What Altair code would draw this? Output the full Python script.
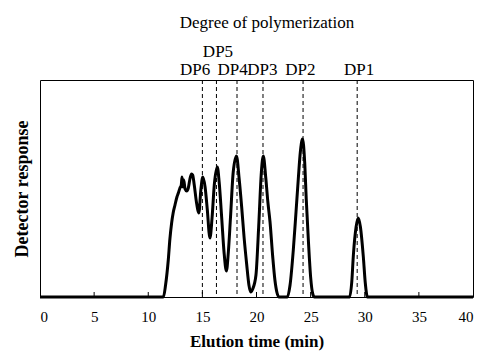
import altair as alt
import pandas as pd

# Chromatogram trace (elution time in min, detector response in arbitrary units)
trace_time = [0, 11.4, 11.6, 11.85, 12.0, 12.16, 12.3, 12.47, 12.65, 12.78, 12.93,
              13.05, 13.12, 13.2, 13.28, 13.4, 13.55, 13.7, 13.85, 14.0, 14.1,
              14.25, 14.45, 14.68, 14.85, 15.04, 15.25, 15.45, 15.7, 15.9, 16.1,
              16.38, 16.55, 16.78, 17.0, 17.22, 17.4, 17.6, 17.85, 18.15, 18.4,
              18.63, 18.85, 19.09, 19.3, 19.46, 19.65, 19.95, 20.2, 20.45, 20.63,
              20.85, 21.05, 21.25, 21.5, 21.7, 21.9, 22.05, 22.85, 23.1, 23.4,
              23.65, 23.86, 24.05, 24.25, 24.45, 24.6, 24.8, 25.0, 25.2, 25.35,
              28.6, 28.8, 28.95, 29.2, 29.4, 29.6, 29.87, 30.05, 30.25, 40]
trace_resp = [0, 0, 12, 37, 58, 74, 84, 92, 100, 104, 109,
              112, 120, 110, 117, 108, 106, 109, 118, 123, 122,
              112, 95, 84, 106, 120, 110, 88, 59, 80, 112,
              130, 115, 80, 45, 26, 45, 80, 125, 141, 118,
              90, 60, 33, 12, 5, 8, 22, 70, 125, 141,
              120, 95, 75, 40, 17, 4, 0, 0, 12, 47,
              85, 118, 145, 158, 135, 97, 55, 20, 3, 0,
              0, 15, 42, 70, 79, 70, 40, 14, 0, 0]

# Degree of polymerization markers
dp_names = ["DP6", "DP5", "DP4", "DP3", "DP2", "DP1"]
dp_times = [15.0, 16.3, 18.2, 20.6, 24.3, 29.3]
dp_label_times = [14.32, 16.44, 17.8, 20.55, 24.05, 29.47]
dp_label_row = [0, 1, 0, 0, 0, 0]

x_ticks = [0, 5, 10, 15, 20, 25, 30, 35, 40]

trace_df = pd.DataFrame({"t": trace_time, "r": trace_resp})
dp_df = pd.DataFrame({"name": dp_names, "t": dp_times,
                      "lt": dp_label_times, "row": dp_label_row})
tick_df = pd.DataFrame({"t": x_ticks[1:-1]})
title_df = pd.DataFrame({"text": ["Degree of polymerization"]})

FONT = "Liberation Serif"
xscale = alt.Scale(domain=[0, 40], nice=False, zero=False)
yscale = alt.Scale(domain=[0, 217], nice=False)

line = alt.Chart(trace_df).mark_line(
    color="black", strokeWidth=3, interpolate="monotone"
).encode(
    x=alt.X("t:Q", scale=xscale,
            axis=alt.Axis(values=x_ticks, title="Elution time (min)", ticks=False,
                          tickSize=0, domain=False, grid=False, labelFont=FONT,
                          labelFontSize=15, labelColor="black", labelPadding=12,
                          titleFont=FONT, titleFontSize=17, titleFontWeight="bold",
                          titleColor="black", titlePadding=9)),
    y=alt.Y("r:Q", scale=yscale,
            axis=alt.Axis(title="Detector response", labels=False, ticks=False,
                          domain=False, grid=False, titleFont=FONT, titleFontSize=18,
                          titleFontWeight="bold", titleColor="black", titlePadding=9)),
)

dashes = alt.Chart(dp_df).mark_rule(
    color="black", strokeWidth=1, strokeDash=[4, 3]
).encode(
    x=alt.X("t:Q", scale=xscale),
    y=alt.value(0),
    y2=alt.value(217),
)

ticks = alt.Chart(tick_df).mark_rule(color="black", strokeWidth=1).encode(
    x=alt.X("t:Q", scale=xscale),
    y=alt.value(217),
    y2=alt.value(212),
)

labels_low = alt.Chart(dp_df).transform_filter(alt.datum.row == 0).mark_text(
    font=FONT, fontSize=17, color="black", baseline="middle", align="center"
).encode(
    x=alt.X("lt:Q", scale=xscale),
    y=alt.value(-10),
    text="name:N",
)

labels_high = alt.Chart(dp_df).transform_filter(alt.datum.row == 1).mark_text(
    font=FONT, fontSize=17, color="black", baseline="middle", align="center"
).encode(
    x=alt.X("lt:Q", scale=xscale),
    y=alt.value(-28),
    text="name:N",
)

title = alt.Chart(title_df).mark_text(
    font=FONT, fontSize=17, color="black", baseline="middle", align="center"
).encode(
    x=alt.value(227),
    y=alt.value(-57),
    text="text:N",
)

chart = alt.layer(dashes, ticks, line, labels_low, labels_high, title).properties(
    width=433,
    height=217,
    padding={"left": 40, "top": 80, "right": 8, "bottom": 55},
    autosize=alt.AutoSizeParams(type="none"),
    background="white",
).configure_view(stroke="black", strokeWidth=1)

chart.save("out.html", embed_options={"renderer": "svg", "actions": False})
